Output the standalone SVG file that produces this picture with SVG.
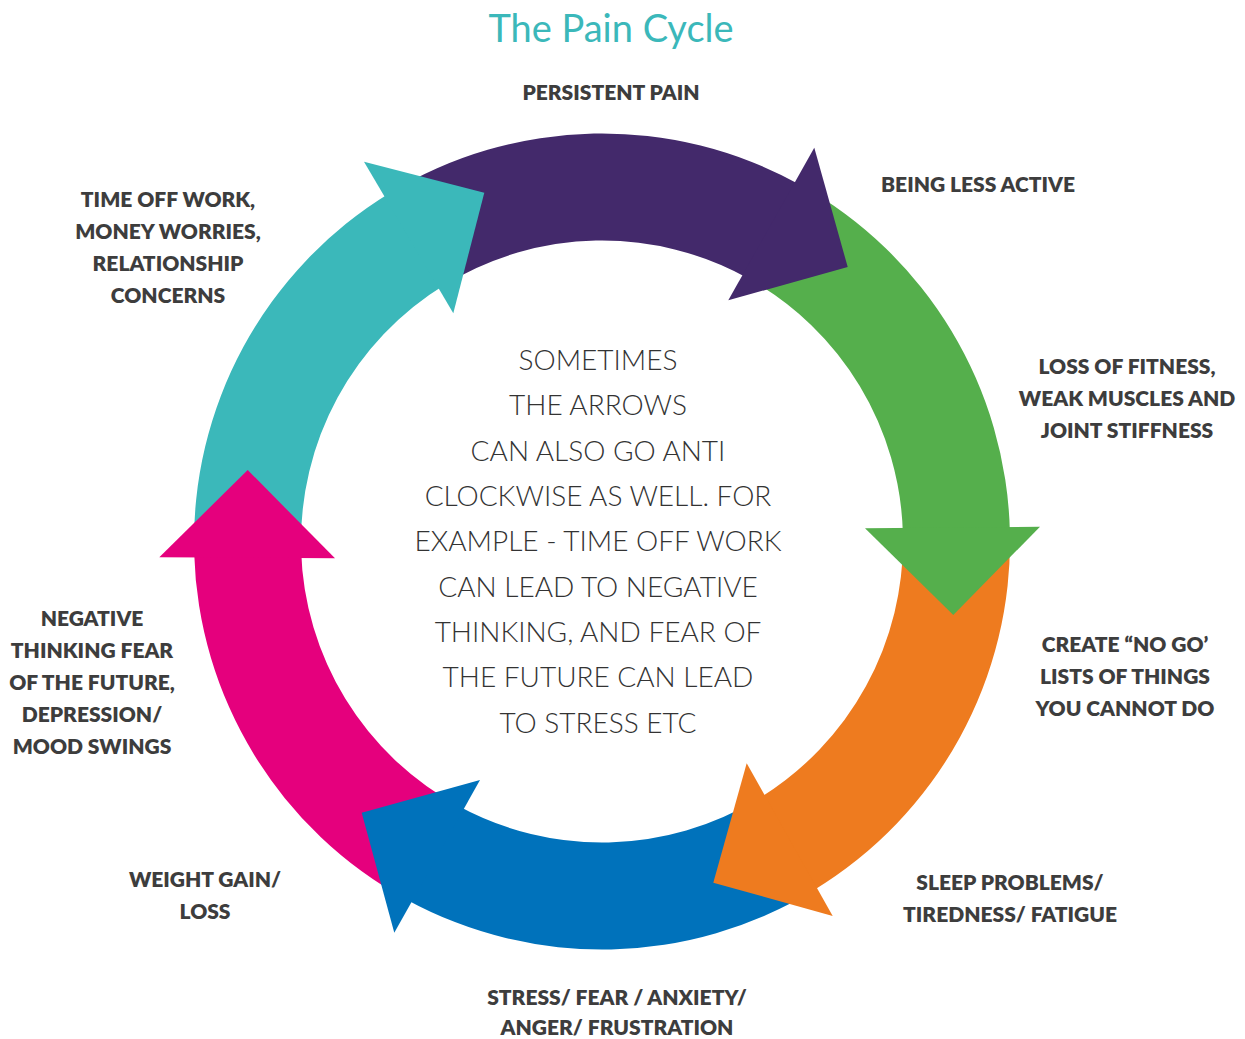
<svg xmlns="http://www.w3.org/2000/svg" width="1245" height="1039" viewBox="0 0 1245 1039">
<style>
.lbl{font-family:Lato,"Open Sans","Liberation Sans",sans-serif;font-weight:800;font-size:21px;fill:#3d3d3d;text-anchor:middle}
.mid{font-family:Lato,"Open Sans","Liberation Sans",sans-serif;font-weight:300;font-size:28px;fill:#333333;text-anchor:middle}
.title{font-family:Lato,"Open Sans","Liberation Sans",sans-serif;font-weight:normal;font-size:38px;fill:#3BB8BA;text-anchor:middle}
.purple{fill:#43296B}.green{fill:#55AF4C}.orange{fill:#EE7B1F}.blue{fill:#0072BB}.pink{fill:#E5007D}.teal{fill:#3BB8BA}
</style>
<rect width="1245" height="1039" fill="#ffffff"/>
<text class="title" x="611" y="42">The Pain Cycle</text>
<g id="connectors">
<path class="purple" d="M389.42,193.24 A408,408 0 0 1 800.43,185.00 L748.39,278.50 A301,301 0 0 0 445.17,284.58 Z"/>
<path class="green" d="M800.43,185.00 A408,408 0 0 1 1009.89,532.24 L902.92,534.67 A301,301 0 0 0 748.39,278.50 Z"/>
<path class="orange" d="M1009.89,532.24 A408,408 0 0 1 813.36,890.49 L757.93,798.97 A301,301 0 0 0 902.92,534.67 Z"/>
<path class="blue" d="M813.36,890.49 A408,408 0 0 1 406.69,899.74 L457.91,805.79 A301,301 0 0 0 757.93,798.97 Z"/>
<path class="pink" d="M406.69,899.74 A408,408 0 0 1 194.16,552.89 L301.12,549.90 A301,301 0 0 0 457.91,805.79 Z"/>
<path class="teal" d="M194.16,552.89 A408,408 0 0 1 389.42,193.24 L445.17,284.58 A301,301 0 0 0 301.12,549.90 Z"/>
<polygon class="purple" points="814.3,147.7 847.7,267 728.3,300.3"/>
<polygon class="green" points="865,528.3 1040,526.7 953.3,615"/>
<polygon class="orange" points="746.7,763.3 832.7,916 713.3,882.7"/>
<polygon class="blue" points="480,780 394.3,932.7 361.7,812.7"/>
<polygon class="pink" points="335,558.3 159.3,557.3 247.7,470"/>
<polygon class="teal" points="453.3,313.3 364,161.7 484.3,192.7"/>
</g>
<g id="center-note">
<text class="mid" x="598" y="370">SOMETIMES</text>
<text class="mid" x="598" y="415">THE ARROWS</text>
<text class="mid" x="598" y="461">CAN ALSO GO ANTI</text>
<text class="mid" x="598" y="506">CLOCKWISE AS WELL. FOR</text>
<text class="mid" x="598" y="551">EXAMPLE - TIME OFF WORK</text>
<text class="mid" x="598" y="597">CAN LEAD TO NEGATIVE</text>
<text class="mid" x="598" y="642">THINKING, AND FEAR OF</text>
<text class="mid" x="598" y="687">THE FUTURE CAN LEAD</text>
<text class="mid" x="598" y="733">TO STRESS ETC</text>
</g>
<g id="persistent-pain"><text class="lbl" x="611" y="100">PERSISTENT PAIN</text></g>
<g id="being-less-active"><text class="lbl" x="978" y="192">BEING LESS ACTIVE</text></g>
<g id="loss-of-fitness">
<text class="lbl" x="1127" y="374">LOSS OF FITNESS,</text>
<text class="lbl" x="1127" y="406">WEAK MUSCLES AND</text>
<text class="lbl" x="1127" y="438">JOINT STIFFNESS</text>
</g>
<g id="no-go-lists">
<text class="lbl" x="1125" y="652">CREATE “NO GO’</text>
<text class="lbl" x="1125" y="684">LISTS OF THINGS</text>
<text class="lbl" x="1125" y="716">YOU CANNOT DO</text>
</g>
<g id="sleep-problems">
<text class="lbl" x="1010" y="890">SLEEP PROBLEMS/</text>
<text class="lbl" x="1010" y="922">TIREDNESS/ FATIGUE</text>
</g>
<g id="stress-fear">
<text class="lbl" x="617" y="1005">STRESS/ FEAR / ANXIETY/</text>
<text class="lbl" x="617" y="1035">ANGER/ FRUSTRATION</text>
</g>
<g id="weight-gain">
<text class="lbl" x="205" y="887">WEIGHT GAIN/</text>
<text class="lbl" x="205" y="919">LOSS</text>
</g>
<g id="negative-thinking">
<text class="lbl" x="92" y="626">NEGATIVE</text>
<text class="lbl" x="92" y="658">THINKING FEAR</text>
<text class="lbl" x="92" y="690">OF THE FUTURE,</text>
<text class="lbl" x="92" y="722">DEPRESSION/</text>
<text class="lbl" x="92" y="754">MOOD SWINGS</text>
</g>
<g id="time-off-work">
<text class="lbl" x="168" y="207">TIME OFF WORK,</text>
<text class="lbl" x="168" y="239">MONEY WORRIES,</text>
<text class="lbl" x="168" y="271">RELATIONSHIP</text>
<text class="lbl" x="168" y="303">CONCERNS</text>
</g>
</svg>
